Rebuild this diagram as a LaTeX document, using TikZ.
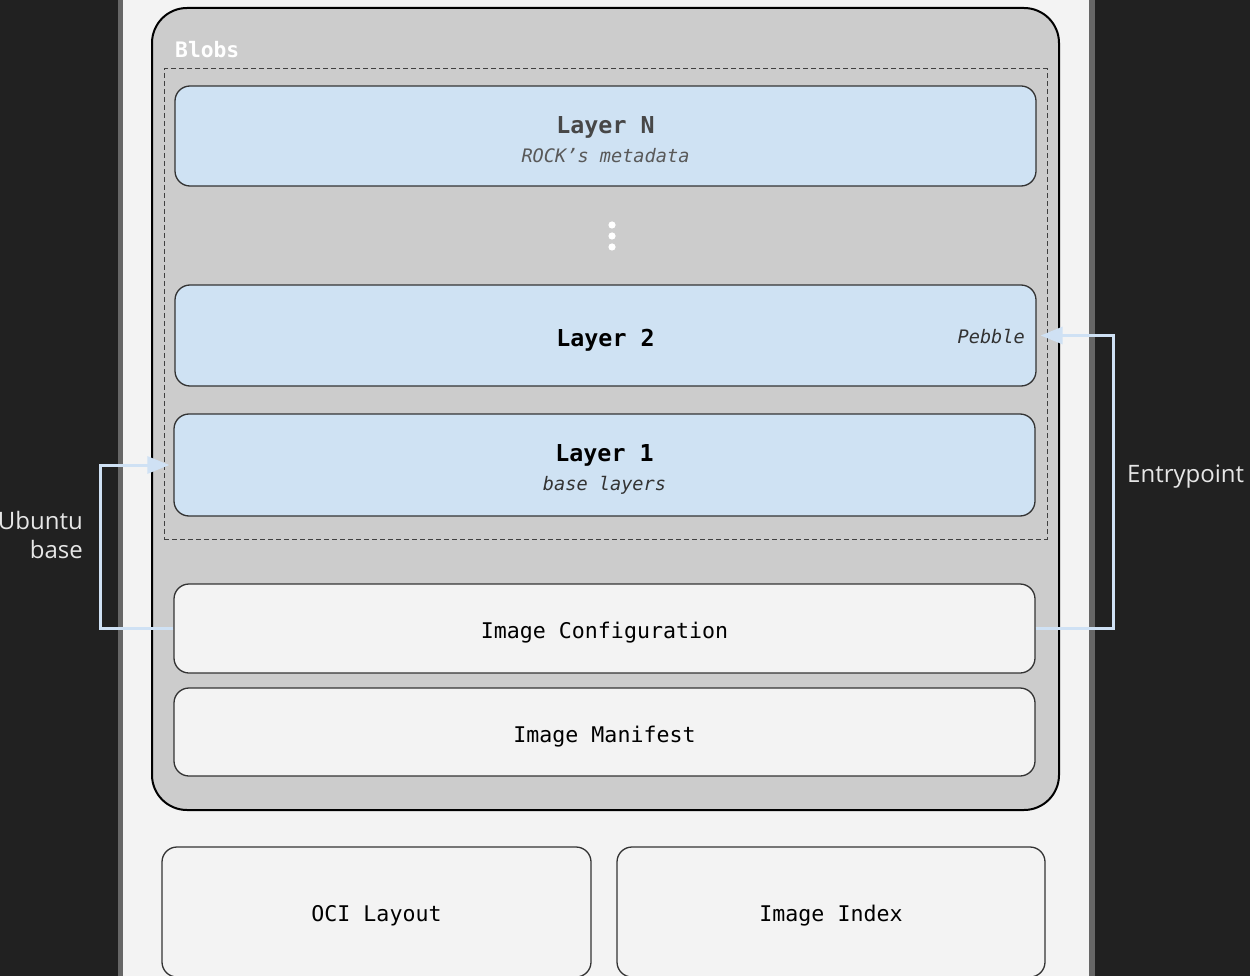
\documentclass[tikz,border=0pt]{standalone}
\usepackage{fontspec}
\setmonofont{DejaVu Sans Mono}
\newfontfamily\ubu{Open Sans}
\usetikzlibrary{arrows.meta}
\definecolor{bgdark}{HTML}{212121}
\definecolor{panel}{HTML}{F3F3F3}
\definecolor{strip}{HTML}{666666}
\definecolor{blobgray}{HTML}{CCCCCC}
\definecolor{layerblue}{HTML}{CFE2F3}
\definecolor{connblue}{HTML}{CFE1F4}
\definecolor{edge}{HTML}{333333}
\definecolor{labtext}{HTML}{E6E6E6}
\tikzset{
  layerbox/.style={draw=edge, line width=1.3pt, fill=layerblue, rounded corners=15pt, minimum width=861pt, inner sep=0pt},
  plainbox/.style={draw=edge, line width=1.3pt, fill=panel, rounded corners=15pt, inner sep=0pt},
  montxt/.style={font=\ttfamily\fontsize{21.6}{26}\selectfont, text=black, inner sep=0pt},
  boldtxt/.style={font=\ttfamily\bfseries\fontsize{23.3}{28}\selectfont, inner sep=0pt},
  itxt/.style={font=\ttfamily\itshape\fontsize{18.6}{22}\selectfont, text=black!80, inner sep=0pt},
  conn/.style={draw=connblue, line width=3pt},
  conntip/.style={-{Triangle[length=22pt,width=17pt,fill=connblue]}, shorten >=4pt},
  side/.style={font=\ubu\fontsize{24}{29}\selectfont, text=labtext, inner sep=0pt}
}
\begin{document}
\begin{tikzpicture}[x=1pt,y=-1pt]
\useasboundingbox (0,0) rectangle (1250,976);
\fill[bgdark] (0,0) rectangle (1250,976);
% panel
\fill[strip] (118,-5) rectangle (1095,981);
\fill[panel] (123,-5) rectangle (1089,981);
% blobs container
\node[draw=black, line width=2pt, fill=blobgray, rounded corners=35pt, minimum width=907pt, minimum height=802pt, inner sep=0pt] (blobs) at (605.5,409) {};
\node[font=\ttfamily\bfseries\fontsize{21.3}{26}\selectfont, text=white, anchor=west, inner sep=0pt] (blobslbl) at (175,50) {Blobs};
\node[draw=black!75, dash pattern=on 5pt off 3pt, line width=1pt, minimum width=883pt, minimum height=470pt, inner sep=0pt] (dash) at (605.5,304) {};
% layers
\node[layerbox, minimum height=100pt] (layerN) at (605.5,136) {};
\node[boldtxt, text=black!72] (layerNt) at (605.5,127) {Layer N};
\node[itxt, text=black!65] (layerNs) at (605.5,156) {ROCK’s metadata};
\fill[white] (612,225) circle (3.6) (612,236) circle (3.6) (612,247) circle (3.6);
\node[layerbox, minimum height=101pt] (layer2) at (605.5,335.5) {};
\node[boldtxt, text=black] (layer2t) at (605.5,340) {Layer 2};
\node[itxt, anchor=east] (pebble) at (1025,337) {Pebble};
\node[layerbox, minimum height=102pt] (layer1) at (604.5,465) {};
\node[boldtxt, text=black] (layer1t) at (604.5,455) {Layer 1};
\node[itxt] (layer1s) at (604.5,485) {base layers};
% config & manifest
\node[plainbox, minimum width=861pt, minimum height=89pt] (config) at (604.5,628.5) {};
\node[montxt] (configt) at (604.5,632.5) {Image Configuration};
\node[plainbox, minimum width=861pt, minimum height=88pt] (manifest) at (604.5,732) {};
\node[montxt] (manifestt) at (604.5,736.5) {Image Manifest};
% bottom boxes
\node[plainbox, minimum width=429pt, minimum height=130pt] (oci) at (376.5,912) {};
\node[montxt] (ocit) at (376.5,915.5) {OCI Layout};
\node[plainbox, minimum width=428pt, minimum height=130pt] (index) at (831,912) {};
\node[montxt] (indext) at (831,915.5) {Image Index};
% connectors
\coordinate (lc) at (100,628.5);
\coordinate (rc) at (1113,628.5);
\draw[conn, conntip] (config.west) -- (lc) |- (layer1.west);
\draw[conn, conntip] (config.east) -- (rc) |- (layer2.east);
% side labels
\node[side, anchor=east, align=right] (ubuntu) at (83,535) {Ubuntu\\base};
\node[side, anchor=west] (entry) at (1127,477) {Entrypoint};
\end{tikzpicture}
\end{document}
